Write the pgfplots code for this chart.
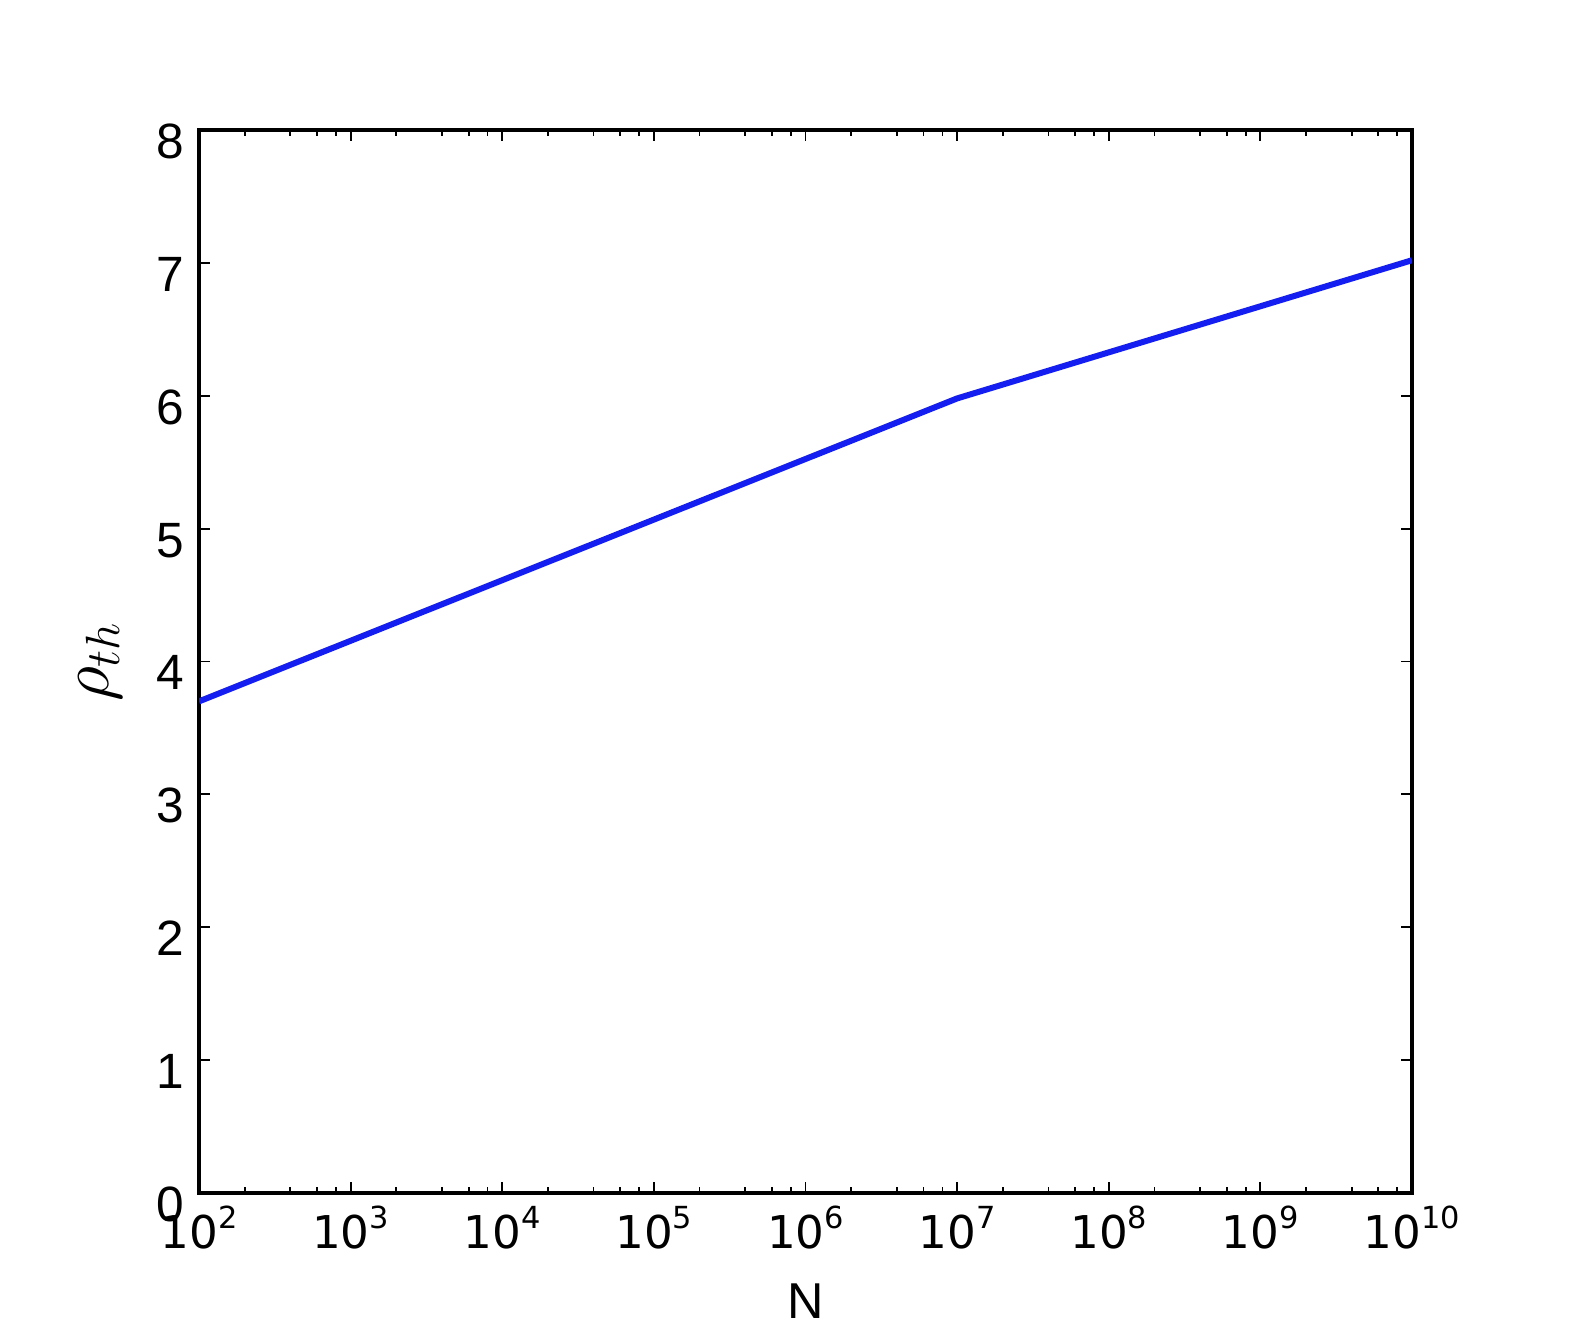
\documentclass[border=0pt]{standalone}
\usepackage{pgfplots}
\pgfplotsset{compat=1.18}
\usepackage{fontspec}
\newfontfamily\lib{Liberation Sans}
\newfontfamily\dv{DejaVu Sans}
\newcommand\tl[1]{10\raisebox{5pt}{\fontsize{7.6pt}{7.6pt}\selectfont #1}}
\begin{document}
\begin{tikzpicture}
\path[use as bounding box] (-49.75pt,-34.25pt) rectangle (342.75pt,298.25pt);
\begin{axis}[
  scale only axis,
  width=303.25pt, height=265.75pt,
  xmode=log,
  xmin=1e2, xmax=1e10,
  ymin=0, ymax=8,
  axis line style={line width=0.85pt, black},
  tick style={line width=0.45pt, black},
  major tick length=2.8pt,
  minor tick length=1.4pt,
  tick align=inside,
  xtick={1e2,1e3,1e4,1e5,1e6,1e7,1e8,1e9,1e10},
  xticklabels={\tl{2},\tl{3},\tl{4},\tl{5},\tl{6},\tl{7},\tl{8},\tl{9},\tl{10}},
  minor xtick={200,400,600,800,2000,4000,6000,8000,2e4,4e4,6e4,8e4,2e5,4e5,6e5,8e5,2e6,4e6,6e6,8e6,2e7,4e7,6e7,8e7,2e8,4e8,6e8,8e8,2e9,4e9,6e9,8e9},
  ytick={0,1,2,3,4,5,6,7,8},
  yticklabels={0,1,2,3,4,5,6,7,8},
  yminorticks=false,
  xticklabel style={font=\dv\fontsize{11.3pt}{11.3pt}\selectfont, anchor=base, inner sep=0pt, yshift=-13.75pt},
  yticklabel style={font=\lib\fontsize{12.4pt}{12.4pt}\selectfont, anchor=base east, inner sep=0pt, xshift=-3.6pt, yshift=-7.1pt},
  xlabel={N},
  xlabel style={font=\lib\fontsize{12.6pt}{12.6pt}\selectfont, at={(axis description cs:0.5,0)}, anchor=base, inner sep=0pt, yshift=-31.25pt},
  ylabel={$\rho_{th}$},
  ylabel style={font=\fontsize{17pt}{17pt}\selectfont, at={(axis description cs:0,0.5)}, anchor=south, inner sep=0pt, yshift=19pt},
]
\addplot[color={rgb,255:red,20;green,30;blue,240}, line width=1.5pt] coordinates {
  (1e2,3.70) (1e7,5.98) (1e10,7.02)
};
\end{axis}
\end{tikzpicture}
\end{document}
